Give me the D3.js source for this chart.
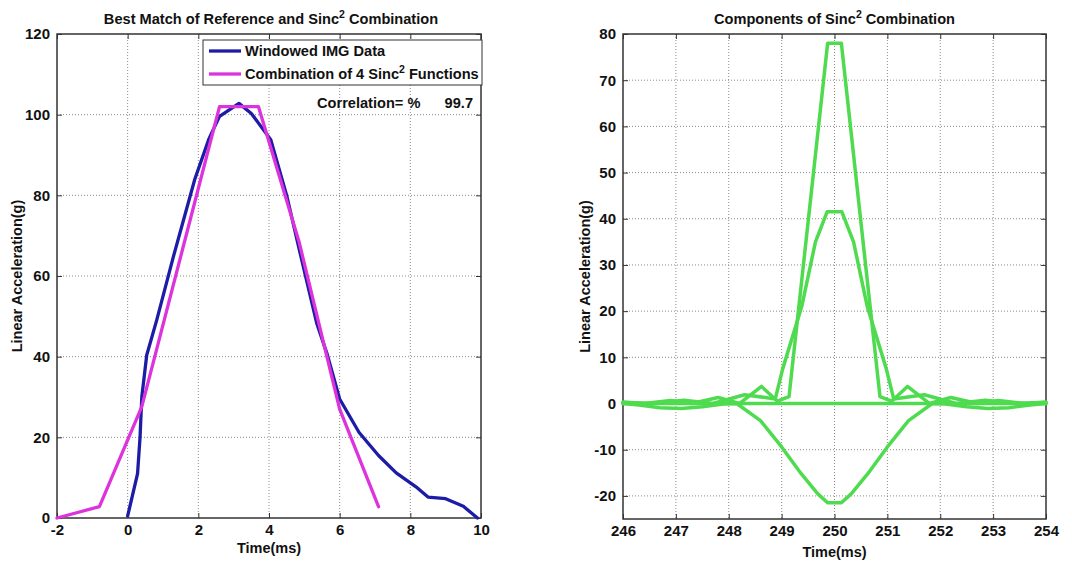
<!DOCTYPE html>
<html>
<head>
<meta charset="utf-8">
<script src="https://cdn.jsdelivr.net/npm/d3@7"></script>
<style>
  html, body { margin: 0; padding: 0; background: #fff; }
  svg { display: block; font-family: "Liberation Sans", Arial, sans-serif; }
  .tick-label { font-size: 15px; font-weight: bold; fill: #111; }
  .title { font-size: 14.6px; font-weight: bold; fill: #111; }
  .axis-title { font-size: 14.5px; font-weight: bold; fill: #111; }
  .legend-text { font-size: 14.6px; font-weight: bold; fill: #111; }
</style>
</head>
<body>
<svg id="chart" width="1072" height="562"></svg>
<script>
// ---- Left panel: measured pulse vs. fitted Sinc^2 combination ----
const imgTime = [0, 0.28, 0.35, 0.4, 0.54, 0.82, 1.3, 1.9, 2.3, 2.6, 3.15, 3.5, 4.05, 4.5, 4.88, 5.35, 5.65, 6.0, 6.55, 7.1, 7.6, 8.15, 8.5, 9.0, 9.5, 9.9];
const imgAccel = [0.5, 11, 20, 30, 40.4, 49, 65, 84, 94, 99.6, 102.8, 100.3, 93.8, 80, 65.7, 48.3, 40.5, 29.5, 21.2, 15.5, 11.2, 7.8, 5.2, 4.8, 2.9, 0];

const fitTime = [-2, -0.8, 0.4, 1.55, 2.6, 3.7, 4.85, 6.0, 7.1];
const fitAccel = [0, 2.8, 27.6, 66.5, 102, 102, 68.5, 27, 2.8];

const leftXTicks = [-2, 0, 2, 4, 6, 8, 10];
const leftYTicks = [0, 20, 40, 60, 80, 100, 120];
const correlationPct = 99.7;

// ---- Right panel: the four Sinc^2 components ----
const compTallTime = [246, 246.4, 246.9, 247.3, 247.8, 248.2, 248.62, 248.92, 249.14, 249.87, 250.13, 250.86, 251.08, 251.38, 251.8, 252.2, 252.7, 253.1, 253.6, 254];
const compTallAccel = [0.3, 0, 0.65, 0, 1.3, 0, 3.7, 0.5, 1.5, 78, 78, 1.5, 0.5, 3.7, 0, 1.3, 0, 0.65, 0, 0.3];

const compMidTime = [246, 246.55, 247.15, 247.7, 248.3, 248.88, 249.02, 249.38, 249.64, 249.86, 250.14, 250.36, 250.62, 250.98, 251.12, 251.7, 252.3, 252.85, 253.45, 254];
const compMidAccel = [0.3, 0, 0.7, 0, 1.9, 1.0, 7.5, 21, 35, 41.5, 41.5, 35, 21, 7.5, 1.0, 1.9, 0, 0.7, 0, 0.3];

const compNegTime = [246, 246.3, 246.7, 247.1, 247.5, 247.9, 248.15, 248.6, 249.0, 249.37, 249.68, 249.87, 250.13, 250.32, 250.63, 251.0, 251.4, 251.85, 252.1, 252.5, 252.9, 253.3, 253.7, 254];
const compNegAccel = [0, -0.3, -0.9, -1.1, -0.7, -0.1, 0, -3.7, -9.4, -15.2, -19.5, -21.5, -21.5, -19.5, -15.2, -9.4, -3.7, 0, -0.1, -0.7, -1.1, -0.9, -0.3, 0];

const compZeroTime = [246, 254];
const compZeroAccel = [0, 0];

const rightXTicks = [246, 247, 248, 249, 250, 251, 252, 253, 254];
const rightYTicks = [-20, -10, 0, 10, 20, 30, 40, 50, 60, 70, 80];

const svg = d3.select("#chart");

function zip(xs, ys) { return xs.map((x, i) => [x, ys[i]]); }
// plain hyphen for negative numbers
const fmt = d => String(d);

function drawPanel(cfg) {
  const x = d3.scaleLinear().domain(cfg.xDomain).range([cfg.left, cfg.right]);
  const y = d3.scaleLinear().domain(cfg.yDomain).range([cfg.bottom, cfg.top]);
  const g = svg.append("g");

  // dotted grid
  g.append("g").selectAll("line").data(cfg.xTicks.filter(v => x(v) > cfg.left + 1 && x(v) < cfg.right - 1)).join("line")
    .attr("x1", d => x(d)).attr("x2", d => x(d))
    .attr("y1", cfg.top).attr("y2", cfg.bottom)
    .attr("stroke", "#8a8a8a").attr("stroke-width", 1).attr("stroke-dasharray", "1,2");
  g.append("g").selectAll("line").data(cfg.yTicks.filter(v => y(v) > cfg.top + 1 && y(v) < cfg.bottom - 1)).join("line")
    .attr("y1", d => y(d)).attr("y2", d => y(d))
    .attr("x1", cfg.left).attr("x2", cfg.right)
    .attr("stroke", "#8a8a8a").attr("stroke-width", 1).attr("stroke-dasharray", "1,2");

  // axes: ticks point inward, labels outside
  const xAxis = d3.axisBottom(x).tickValues(cfg.xTicks).tickSize(-5).tickPadding(6).tickFormat(fmt);
  const yAxis = d3.axisLeft(y).tickValues(cfg.yTicks).tickSize(-5).tickPadding(7).tickFormat(fmt);
  const xa = g.append("g").attr("transform", `translate(0,${cfg.bottom})`).call(xAxis);
  const ya = g.append("g").attr("transform", `translate(${cfg.left},0)`).call(yAxis);
  const xaTop = g.append("g").attr("transform", `translate(0,${cfg.top})`).call(d3.axisTop(x).tickValues(cfg.xTicks).tickSize(-5).tickFormat(""));
  const yaRight = g.append("g").attr("transform", `translate(${cfg.right},0)`).call(d3.axisRight(y).tickValues(cfg.yTicks).tickSize(-5).tickFormat(""));
  [xa, ya, xaTop, yaRight].forEach(a => {
    a.attr("font-family", null).attr("font-size", null);
    a.select(".domain").remove();
    a.selectAll(".tick line").attr("stroke", "#333").attr("stroke-width", 1);
  });
  xa.selectAll("text").attr("class", "tick-label").attr("fill", null);
  ya.selectAll("text").attr("class", "tick-label").attr("fill", null);

  // box
  g.append("rect").attr("x", cfg.left).attr("y", cfg.top)
    .attr("width", cfg.right - cfg.left).attr("height", cfg.bottom - cfg.top)
    .attr("fill", "none").attr("stroke", "#333").attr("stroke-width", 1.5);

  // series
  const line = d3.line().x(d => x(d[0])).y(d => y(d[1]));
  const clipId = "clip" + cfg.id;
  svg.append("clipPath").attr("id", clipId).append("rect")
    .attr("x", cfg.left - 2).attr("y", cfg.top).attr("width", cfg.right - cfg.left + 4).attr("height", cfg.bottom - cfg.top + 2);
  const sg = g.append("g").attr("clip-path", `url(#${clipId})`);
  cfg.series.forEach(s => {
    sg.append("path").datum(zip(s.t, s.v))
      .attr("d", line).attr("fill", "none")
      .attr("stroke", s.color).attr("stroke-width", s.width || 3)
      .attr("stroke-linejoin", "round").attr("stroke-linecap", "round");
  });

  // titles
  const cx = (cfg.left + cfg.right) / 2;
  const t = g.append("text").attr("class", "title").attr("x", cfg.titleX || cx).attr("y", 24).attr("text-anchor", "middle");
  t.append("tspan").text(cfg.titleA);
  t.append("tspan").attr("font-size", "10.5px").attr("dy", -6).text("2");
  t.append("tspan").attr("dy", 6).text(cfg.titleB);

  g.append("text").attr("class", "axis-title").attr("x", cx).attr("y", cfg.xTitleY)
    .attr("text-anchor", "middle").text("Time(ms)");
  g.append("text").attr("class", "axis-title")
    .attr("transform", `translate(${cfg.yTitleX},${(cfg.top + cfg.bottom) / 2}) rotate(-90)`)
    .attr("text-anchor", "middle").text("Linear Acceleration(g)");

  return { g, x, y };
}

const blue = "#1c1ca6";
const magenta = "#dd33dd";
const green = "#4fdb4f";

const left = drawPanel({
  id: "L", left: 57, right: 481, top: 34, bottom: 518,
  xDomain: [-2, 10], yDomain: [0, 120],
  xTicks: leftXTicks, yTicks: leftYTicks,
  titleA: "Best Match of Reference and Sinc", titleB: " Combination",
  titleX: 271,
  xTitleY: 553, yTitleX: 22,
  series: [
    { t: imgTime, v: imgAccel, color: blue, width: 3.3 },
    { t: fitTime, v: fitAccel, color: magenta, width: 3.3 }
  ]
});

drawPanel({
  id: "R", left: 623, right: 1046, top: 34, bottom: 519,
  xDomain: [246, 254], yDomain: [-25, 80],
  xTicks: rightXTicks, yTicks: rightYTicks,
  titleA: "Components of Sinc", titleB: " Combination",
  xTitleY: 557, yTitleX: 590,
  series: [
    { t: compZeroTime, v: compZeroAccel, color: green, width: 3.5 },
    { t: compNegTime, v: compNegAccel, color: green, width: 3.5 },
    { t: compMidTime, v: compMidAccel, color: green, width: 3.5 },
    { t: compTallTime, v: compTallAccel, color: green, width: 3.5 }
  ]
});

// legend of the left panel
const lg = left.g.append("g");
lg.append("rect").attr("x", 203).attr("y", 40).attr("width", 279).attr("height", 45)
  .attr("fill", "#fff").attr("stroke", "#333").attr("stroke-width", 1);
const legendItems = [
  { color: blue, parts: ["Windowed IMG Data"] },
  { color: magenta, parts: ["Combination of 4 Sinc", "2", " Functions"] }
];
legendItems.forEach((it, i) => {
  const yy = 51 + i * 23;
  lg.append("line").attr("x1", 209).attr("x2", 241).attr("y1", yy).attr("y2", yy)
    .attr("stroke", it.color).attr("stroke-width", 3.3);
  const tx = lg.append("text").attr("class", "legend-text").attr("x", 245).attr("y", yy + 5);
  tx.append("tspan").text(it.parts[0]);
  if (it.parts.length > 1) {
    tx.append("tspan").attr("font-size", "10.5px").attr("dy", -6).text(it.parts[1]);
    tx.append("tspan").attr("dy", 6).text(it.parts[2]);
  }
});

// correlation annotation
left.g.append("text").attr("class", "legend-text").attr("x", 317).attr("y", 108).text("Correlation= %");
left.g.append("text").attr("class", "legend-text").attr("x", 473).attr("y", 108)
  .attr("text-anchor", "end").text(correlationPct.toFixed(1));
</script>
</body>
</html>
